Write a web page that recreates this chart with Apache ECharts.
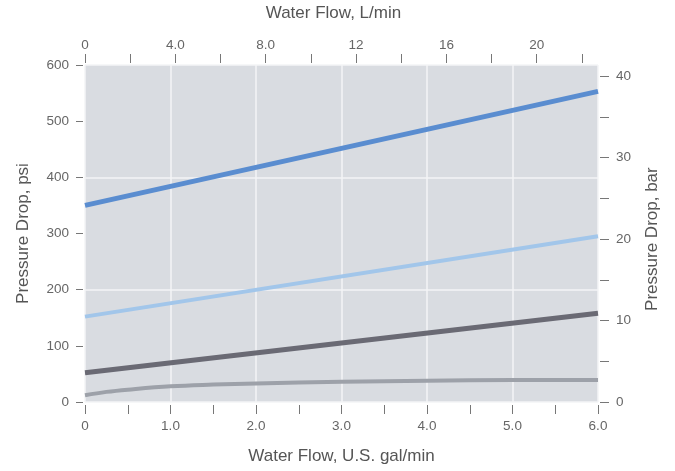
<!DOCTYPE html>
<html>
<head>
<meta charset="utf-8">
<script src="https://cdn.jsdelivr.net/npm/echarts@6/dist/echarts.min.js"></script>
<style>
  html, body { margin: 0; padding: 0; background: #fff; }
  #main { width: 675px; height: 471px; }
</style>
</head>
<body>
<div id="main"></div>
<script>
// flow in U.S. gal/min, pressure drop in psi
var galTickStep = 0.5;   // ticks every 0.5, labels on whole numbers
var lpmTickStep = 2;     // ticks every 2 L/min, labels every 4
var lpmLabelStep = 4;
var psiTickStep = 100;
var psiGridStep = 200;
var barTickStep = 5;     // ticks every 5 bar, labels every 10
var barLabelStep = 10;
var lpmShownMax = 22;
var barShownMax = 40;

var flowLine = [0, 6];
var topBlue = [350, 553];
var lightBlue = [152, 295];
var darkGrey = [52, 158];
var curveFlow = [0, 0.25, 0.5, 1, 1.5, 2, 3, 4, 5, 6];
var lightGrey = [12, 18, 22, 28, 31, 33, 36, 38, 39, 39];

var GAL_TO_LPM = 3.78541;
var PSI_PER_BAR = 14.5038;
var GAL_MAX = 6, PSI_MAX = 600;

function pairs(xs, ys) {
  var out = [];
  for (var i = 0; i < xs.length; i++) out.push([xs[i], ys[i]]);
  return out;
}
function isStep(v, step) {
  return Math.abs(v / step - Math.round(v / step)) < 1e-6;
}

// plot box in pixels
var PL = 85, PR = 77, PT = 65, PB = 69;
var plotW = 675 - PL - PR, plotH = 471 - PT - PB;
// top axis and right axis stop at their last tick, so they get their own boxes
var lpmW = plotW * lpmShownMax / (GAL_MAX * GAL_TO_LPM);
var barH = plotH * barShownMax / (PSI_MAX / PSI_PER_BAR);

var tickColor = '#777';
var titleStyle = { color: '#555', fontSize: 17, fontFamily: 'Liberation Sans' };
function labelStyle(extra) {
  return Object.assign({ color: '#666', fontSize: 13.5, fontFamily: 'Liberation Sans' }, extra);
}
var tickStyle = { color: tickColor, width: 1 };
var noLine = { show: false, onZero: false };
var gridLine = { show: true, lineStyle: { color: '#f3f4f6', width: 1.5 } };

var myChart = echarts.init(document.getElementById('main'));
var option = {
  backgroundColor: '#fff',
  animation: false,
  grid: [
    { left: PL, right: PR, top: PT, bottom: PB, show: true, backgroundColor: '#d9dce1', borderWidth: 0 },
    { left: PL, width: lpmW, top: PT, bottom: PB, show: false },
    { left: PL, right: PR, bottom: PB, height: barH, show: false }
  ],
  xAxis: [{
    gridIndex: 0, type: 'value', position: 'bottom', min: 0, max: GAL_MAX, interval: galTickStep,
    offset: 3,
    name: 'Water Flow, U.S. gal/min', nameLocation: 'middle', nameGap: 43,
    nameTextStyle: titleStyle,
    axisLine: noLine,
    axisTick: { show: true, length: 9, lineStyle: tickStyle },
    axisLabel: labelStyle({ margin: 14, formatter: function (v) {
      if (!isStep(v, 1)) return '';
      return v === 0 ? '0' : v.toFixed(1);
    } }),
    splitLine: { show: false }
  }, {
    // white vertical grid lines on whole gal/min
    gridIndex: 0, type: 'value', position: 'bottom', min: 0, max: GAL_MAX, interval: 1,
    axisLine: noLine, axisTick: { show: false }, axisLabel: { show: false },
    splitLine: gridLine
  }, {
    gridIndex: 1, type: 'value', position: 'top', min: 0, max: lpmShownMax, interval: lpmTickStep,
    offset: 3,
    name: 'Water Flow, L/min', nameLocation: 'middle', nameGap: 41,
    nameTextStyle: titleStyle,
    axisLine: noLine,
    axisTick: { show: true, length: 9, lineStyle: tickStyle },
    axisLabel: labelStyle({ margin: 11, formatter: function (v) {
      if (!isStep(v, lpmLabelStep)) return '';
      return v === 0 ? '0' : (v < 10 ? v.toFixed(1) : String(v));
    } }),
    splitLine: { show: false }
  }, {
    gridIndex: 2, type: 'value', position: 'bottom', min: 0, max: 1, show: false
  }],
  yAxis: [{
    gridIndex: 0, type: 'value', position: 'left', min: 0, max: PSI_MAX, interval: psiTickStep,
    offset: 2,
    name: 'Pressure Drop, psi', nameLocation: 'middle', nameGap: 51,
    nameTextStyle: titleStyle,
    axisLine: noLine,
    axisTick: { show: true, length: 7, lineStyle: tickStyle },
    axisLabel: labelStyle({ margin: 14 }),
    splitLine: { show: false }
  }, {
    // white horizontal grid lines
    gridIndex: 0, type: 'value', position: 'left', min: 0, max: PSI_MAX, interval: psiGridStep,
    axisLine: noLine, axisTick: { show: false }, axisLabel: { show: false },
    splitLine: gridLine
  }, {
    gridIndex: 1, type: 'value', min: 0, max: 1, show: false
  }, {
    gridIndex: 2, type: 'value', position: 'right', min: 0, max: barShownMax, interval: barTickStep,
    offset: 2,
    name: 'Pressure Drop, bar', nameLocation: 'middle', nameGap: 44,
    nameTextStyle: titleStyle,
    axisLine: noLine,
    axisTick: { show: true, length: 9, lineStyle: tickStyle },
    axisLabel: labelStyle({ margin: 16, formatter: function (v) {
      return isStep(v, barLabelStep) ? String(v) : '';
    } }),
    splitLine: { show: false }
  }],
  series: [{
    type: 'line', xAxisIndex: 0, yAxisIndex: 0, symbol: 'none',
    data: pairs(curveFlow, lightGrey), smooth: 0.4,
    lineStyle: { color: '#9da1a9', width: 4 }
  }, {
    type: 'line', xAxisIndex: 0, yAxisIndex: 0, symbol: 'none',
    data: pairs(flowLine, darkGrey),
    lineStyle: { color: '#6a6a74', width: 5 }
  }, {
    type: 'line', xAxisIndex: 0, yAxisIndex: 0, symbol: 'none',
    data: pairs(flowLine, lightBlue),
    lineStyle: { color: '#a2c6ea', width: 4 }
  }, {
    type: 'line', xAxisIndex: 0, yAxisIndex: 0, symbol: 'none',
    data: pairs(flowLine, topBlue),
    lineStyle: { color: '#5a8dd0', width: 5 }
  }]
};
myChart.setOption(option);
</script>
</body>
</html>
